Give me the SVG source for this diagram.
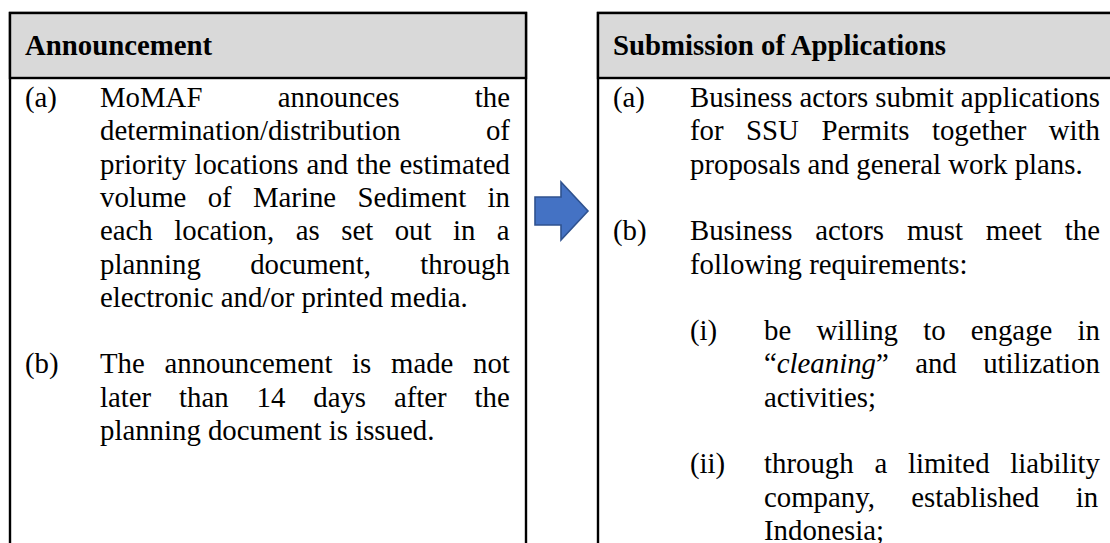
<svg xmlns="http://www.w3.org/2000/svg" width="1110" height="543" viewBox="0 0 1110 543">
  <style>
    .txt { font-family: "Liberation Serif", "Times New Roman", serif; font-size: 28.8px; fill: #000; }
    .head { font-weight: bold; }
    .box { fill: #fff; stroke: #000; stroke-width: 2.4; }
    .band { fill: #D9D9D9; stroke: #000; stroke-width: 2.4; }
    .flow { fill: #4472C4; stroke: #2F528F; stroke-width: 1.6; stroke-linejoin: miter; }
  </style>

  <rect width="1110" height="543" fill="#fff"/>

  <!-- Left step: Announcement -->
  <g id="announcement">
    <rect class="box" x="10" y="13" width="516" height="600"/>
    <rect class="band" x="10" y="13" width="516" height="65"/>
    <text class="txt head" x="25" y="55">Announcement</text>

    <text class="txt" x="25" y="107">(a)</text>
    <text class="txt" x="100" y="107" word-spacing="68.2">MoMAF announces the</text>
    <text class="txt" x="100" y="140.3" word-spacing="78">determination/distribution of</text>
    <text class="txt" x="100" y="173.6" word-spacing="0.9">priority locations and the estimated</text>
    <text class="txt" x="100" y="206.9" word-spacing="14.1">volume of Marine Sediment in</text>
    <text class="txt" x="100" y="240.2" word-spacing="14.3">each location, as set out in a</text>
    <text class="txt" x="100" y="273.5" word-spacing="42.2">planning document, through</text>
    <text class="txt" x="100" y="306.8">electronic and/or printed media.</text>

    <text class="txt" x="25" y="373.4">(b)</text>
    <text class="txt" x="100" y="373.4" word-spacing="12.5">The announcement is made not</text>
    <text class="txt" x="100" y="406.7" word-spacing="20.7">later than 14 days after the</text>
    <text class="txt" x="100" y="440">planning document is issued.</text>
  </g>

  <!-- Right step: Submission of Applications -->
  <g id="submission">
    <rect class="box" x="598" y="13" width="516" height="600"/>
    <rect class="band" x="598" y="13" width="516" height="65"/>
    <text class="txt head" x="613" y="55">Submission of Applications</text>

    <text class="txt" x="613" y="107">(a)</text>
    <text class="txt" x="690" y="107" word-spacing="-0.1">Business actors submit applications</text>
    <text class="txt" x="690" y="140.3" word-spacing="15.3">for SSU Permits together with</text>
    <text class="txt" x="690" y="173.6">proposals and general work plans.</text>

    <text class="txt" x="613" y="240.2">(b)</text>
    <text class="txt" x="690" y="240.2" word-spacing="15.7">Business actors must meet the</text>
    <text class="txt" x="690" y="273.5">following requirements:</text>

    <text class="txt" x="690" y="340.1">(i)</text>
    <text class="txt" x="764" y="340.1" word-spacing="18">be willing to engage in</text>
    <text class="txt" x="764" y="373.4" word-spacing="19.2">“<tspan font-style="italic">cleaning</tspan>” and utilization</text>
    <text class="txt" x="764" y="406.7">activities;</text>

    <text class="txt" x="690" y="473.3">(ii)</text>
    <text class="txt" x="764" y="473.3" word-spacing="13.6">through a limited liability</text>
    <text class="txt" x="764" y="506.6" word-spacing="29.2">company, established in</text>
    <text class="txt" x="764" y="539.9">Indonesia;</text>
  </g>

  <!-- Flow arrow between the two steps -->
  <g id="connectors">
    <polygon class="flow" points="535,197 561,197 561,182 588,211 561,240 561,225 535,225"/>
  </g>
</svg>
